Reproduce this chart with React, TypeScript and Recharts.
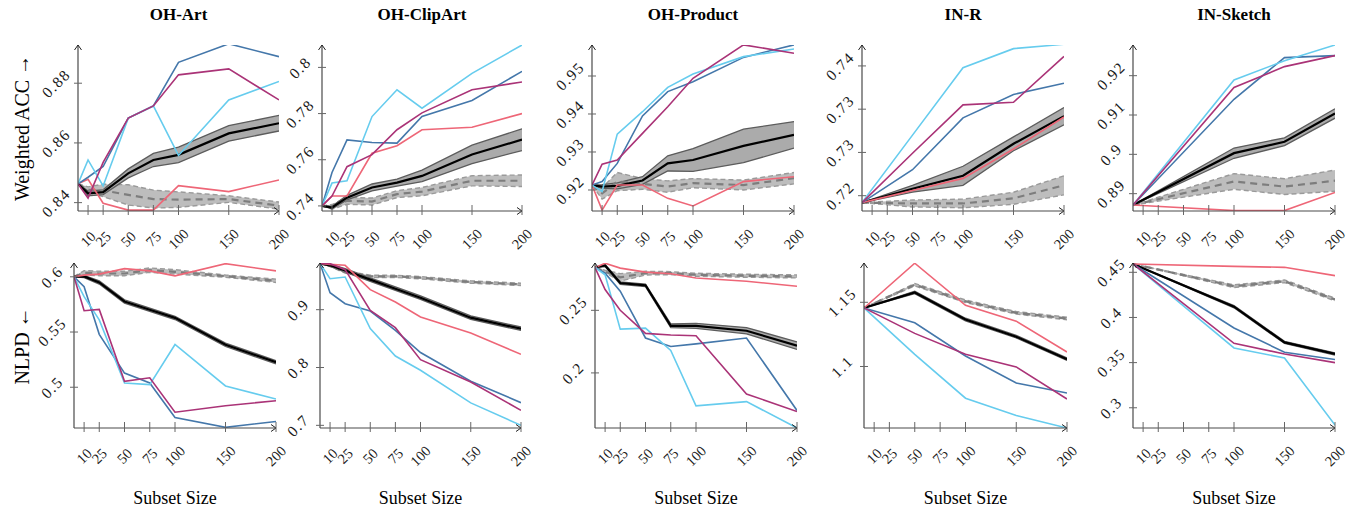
import React from 'react';
import { ComposedChart, Line, Area, XAxis, YAxis, ReferenceDot } from 'recharts';

const FONT = '"Liberation Serif", "Times New Roman", "DejaVu Serif", serif';
const C_BLUE = '#4477AA';
const C_CYAN = '#66CCEE';
const C_PURPLE = '#AA3377';
const C_RED = '#EE6677';

// ---------- categories / ticks ----------
const X_FULL = [0, 10, 25, 50, 75, 100, 150, 200];
const X_INR = [0, 50, 100, 150, 200];
const X_INS = [0, 100, 150, 200];
const X_TICKS = [10, 25, 50, 75, 100, 150, 200];

const TITLES = ['OH-Art', 'OH-ClipArt', 'OH-Product', 'IN-R', 'IN-Sketch'];
const ROW_LABELS = ['Weighted ACC \u2192', 'NLPD \u2190'];
const X_LABEL = 'Subset Size';

// ---------- OH-Art : Weighted ACC ----------
const artAccBlue = [0.8463, 0.8485, 0.8521, 0.8683, 0.8724, 0.887, 0.8932, 0.8889];
const artAccCyan = [0.8463, 0.8543, 0.8456, 0.8683, 0.8724, 0.8558, 0.8744, 0.8806];
const artAccPurple = [0.8463, 0.8415, 0.8535, 0.8683, 0.8724, 0.8828, 0.8848, 0.8744];
const artAccRed = [0.8463, 0.8478, 0.8398, 0.8375, 0.8375, 0.8457, 0.8437, 0.8476];
const artAccBlack = [0.8463, 0.8431, 0.8435, 0.8498, 0.8543, 0.856, 0.8632, 0.8666];
const artAccBlackHw = [0, 0.0008, 0.0008, 0.0015, 0.0022, 0.0026, 0.0026, 0.0026];
const artAccGray = [0.8463, 0.8443, 0.8441, 0.8426, 0.8412, 0.841, 0.8412, 0.839];
const artAccGrayHw = [0, 0.001, 0.0021, 0.0034, 0.003, 0.0026, 0.0011, 0.0012];

// ---------- OH-Art : NLPD ----------
const artNlpdBlue = [0.6, 0.5911, 0.5479, 0.5128, 0.5039, 0.4726, 0.4637, 0.469];
const artNlpdCyan = [0.6, 0.582, 0.561, 0.5039, 0.5024, 0.5387, 0.5012, 0.4893];
const artNlpdPurple = [0.6, 0.5693, 0.5705, 0.5054, 0.5086, 0.4774, 0.4833, 0.4878];
const artNlpdRed = [0.6, 0.6015, 0.6024, 0.6074, 0.6054, 0.6009, 0.6119, 0.6054];
const artNlpdBlack = [0.6, 0.6003, 0.5949, 0.5777, 0.5702, 0.5628, 0.5384, 0.5226];
const artNlpdBlackHw = [0, 0.001, 0.0015, 0.0015, 0.0015, 0.0015, 0.0015, 0.0015];
const artNlpdGray = [0.6, 0.6036, 0.603, 0.603, 0.606, 0.6045, 0.6006, 0.5964];
const artNlpdGrayHw = [0, 0.002, 0.002, 0.002, 0.002, 0.002, 0.001, 0.0015];

// ---------- OH-ClipArt : Weighted ACC ----------
const clipAccBlue = [0.74, 0.7545, 0.7686, 0.7675, 0.7672, 0.7787, 0.7857, 0.7983];
const clipAccCyan = [0.74, 0.7499, 0.7509, 0.7787, 0.7903, 0.7823, 0.7974, 0.8097];
const clipAccPurple = [0.74, 0.7443, 0.757, 0.7622, 0.773, 0.7803, 0.7903, 0.7937];
const clipAccRed = [0.74, 0.7443, 0.7443, 0.7628, 0.7661, 0.773, 0.7741, 0.78];
const clipAccBlack = [0.74, 0.7393, 0.7436, 0.748, 0.7501, 0.753, 0.7623, 0.7687];
const clipAccBlackHw = [0, 0.0005, 0.001, 0.0015, 0.0015, 0.0025, 0.004, 0.0047];
const clipAccGray = [0.74, 0.7396, 0.7422, 0.7419, 0.7451, 0.7462, 0.7509, 0.7509];
const clipAccGrayHw = [0, 0.001, 0.0015, 0.0015, 0.0015, 0.0018, 0.0022, 0.0025];

// ---------- OH-ClipArt : NLPD ----------
const clipNlpdBlue = [0.98, 0.9294, 0.9104, 0.8977, 0.8643, 0.8259, 0.7763, 0.7392];
const clipNlpdCyan = [0.98, 0.9536, 0.9565, 0.8672, 0.8199, 0.7953, 0.7388, 0.7];
const clipNlpdPurple = [0.98, 0.9796, 0.9692, 0.8988, 0.8689, 0.8136, 0.775, 0.726];
const clipNlpdRed = [0.98, 0.9784, 0.9767, 0.9346, 0.9133, 0.8873, 0.8597, 0.8228];
const clipNlpdBlack = [0.98, 0.9767, 0.968, 0.9519, 0.9363, 0.9207, 0.8862, 0.8671];
const clipNlpdBlackHw = [0, 0.002, 0.003, 0.003, 0.003, 0.003, 0.003, 0.003];
const clipNlpdGray = [0.98, 0.9767, 0.9651, 0.9576, 0.9576, 0.9553, 0.9478, 0.9438];
const clipNlpdGrayHw = [0, 0.002, 0.002, 0.002, 0.002, 0.002, 0.002, 0.002];

// ---------- OH-Product : Weighted ACC ----------
const prodAccBlue = [0.9213, 0.9222, 0.927, 0.9395, 0.9459, 0.9485, 0.9549, 0.9582];
const prodAccCyan = [0.9213, 0.9196, 0.9347, 0.9406, 0.947, 0.9505, 0.9551, 0.9571];
const prodAccPurple = [0.9213, 0.9268, 0.9279, 0.9349, 0.9419, 0.9494, 0.9582, 0.956];
const prodAccRed = [0.9213, 0.9147, 0.9213, 0.9213, 0.9178, 0.9158, 0.9222, 0.9235];
const prodAccBlack = [0.9213, 0.9209, 0.9211, 0.9225, 0.927, 0.9279, 0.9316, 0.9345];
const prodAccBlackHw = [0, 0.0005, 0.0008, 0.001, 0.002, 0.003, 0.0044, 0.0035];
const prodAccGray = [0.9213, 0.9191, 0.9222, 0.9216, 0.9209, 0.9218, 0.9213, 0.9231];
const prodAccGrayHw = [0, 0.0015, 0.0024, 0.0014, 0.0015, 0.0012, 0.0013, 0.0015];

// ---------- OH-Product : NLPD ----------
const prodNlpdBlue = [0.2842, 0.2797, 0.2653, 0.2279, 0.2211, 0.2232, 0.2279, 0.17];
const prodNlpdCyan = [0.2842, 0.2784, 0.235, 0.2358, 0.2179, 0.1737, 0.1771, 0.156];
const prodNlpdPurple = [0.2842, 0.2666, 0.25, 0.2316, 0.2303, 0.2297, 0.1832, 0.1692];
const prodNlpdRed = [0.2842, 0.2876, 0.2837, 0.2805, 0.2792, 0.2758, 0.2732, 0.2692];
const prodNlpdBlack = [0.2842, 0.2858, 0.2718, 0.27, 0.2376, 0.2376, 0.2337, 0.2218];
const prodNlpdBlackHw = [0, 0.0008, 0.001, 0.001, 0.0015, 0.002, 0.0025, 0.003];
const prodNlpdGray = [0.2842, 0.281, 0.2763, 0.2797, 0.2797, 0.2784, 0.2776, 0.2771];
const prodNlpdGrayHw = [0, 0.001, 0.003, 0.0015, 0.0012, 0.0012, 0.0012, 0.0012];

// ---------- IN-R : Weighted ACC ----------
const inrAccBlue = [0.7242, 0.728, 0.734, 0.7367, 0.738];
const inrAccCyan = [0.7242, 0.732, 0.7398, 0.742, 0.7425];
const inrAccPurple = [0.7242, 0.7299, 0.7355, 0.7358, 0.7411];
const inrAccRed = [0.7242, 0.7256, 0.727, 0.7304, 0.7341];
const inrAccBlack = [0.7242, 0.7258, 0.7273, 0.731, 0.7342];
const inrAccBlackHw = [0, 0.0004, 0.0011, 0.0008, 0.001];
const inrAccGray = [0.7242, 0.7241, 0.7241, 0.7247, 0.7262];
const inrAccGrayHw = [0, 0.0004, 0.0005, 0.0007, 0.0011];

// ---------- IN-R : NLPD ----------
const inrNlpdBlue = [1.1456, 1.134, 1.1082, 1.0871, 1.0793];
const inrNlpdCyan = [1.1456, 1.1095, 1.0753, 1.0619, 1.0521];
const inrNlpdPurple = [1.1456, 1.1258, 1.1095, 1.0997, 1.0747];
const inrNlpdRed = [1.1456, 1.1804, 1.1477, 1.1353, 1.1113];
const inrNlpdBlack = [1.1456, 1.1577, 1.1366, 1.1232, 1.1057];
const inrNlpdBlackHw = [0, 0.001, 0.001, 0.001, 0.001];
const inrNlpdGray = [1.1456, 1.1637, 1.1508, 1.1418, 1.1374];
const inrNlpdGrayHw = [0, 0.001, 0.001, 0.001, 0.001];

// ---------- IN-Sketch : Weighted ACC ----------
const insAccBlue = [0.8871, 0.914, 0.9246, 0.9251];
const insAccCyan = [0.8871, 0.9189, 0.9238, 0.9278];
const insAccPurple = [0.8871, 0.917, 0.9223, 0.9251];
const insAccRed = [0.8871, 0.8857, 0.8857, 0.8903];
const insAccBlack = [0.8871, 0.9003, 0.9032, 0.9104];
const insAccBlackHw = [0, 0.0013, 0.001, 0.0012];
const insAccGray = [0.8871, 0.8931, 0.8918, 0.8933];
const insAccGrayHw = [0, 0.002, 0.002, 0.0027];

// ---------- IN-Sketch : NLPD ----------
const insNlpdBlue = [0.4592, 0.3883, 0.3615, 0.3534];
const insNlpdCyan = [0.4592, 0.3662, 0.3552, 0.2808];
const insNlpdPurple = [0.4592, 0.3713, 0.3596, 0.35];
const insNlpdRed = [0.4592, 0.4566, 0.4555, 0.4463];
const insNlpdBlack = [0.4592, 0.4119, 0.3724, 0.3596];
const insNlpdBlackHw = [0, 0.0012, 0.0012, 0.0012];
const insNlpdGray = [0.4592, 0.4346, 0.4401, 0.4199];
const insNlpdGrayHw = [0, 0.0015, 0.0015, 0.0015];

// ---------- y axis ticks ----------
const artAccTicks = [0.84, 0.86, 0.88];
const artNlpdTicks = [0.5, 0.55, 0.6];
const clipAccTicks = [0.74, 0.76, 0.78, 0.8];
const clipNlpdTicks = [0.7, 0.8, 0.9];
const prodAccTicks = [0.92, 0.93, 0.94, 0.95];
const prodNlpdTicks = [0.2, 0.25];
const inrAccTicks = [0.725, 0.73, 0.735, 0.74];
const inrAccTickLabels = ['0.72', '0.73', '0.73', '0.74'];
const inrNlpdTicks = [1.1, 1.15];
const insAccTicks = [0.89, 0.9, 0.91, 0.92];
const insNlpdTicks = [0.3, 0.35, 0.4, 0.45];

type PanelCfg = {
  xs: number[];
  blue: number[]; cyan: number[]; purple: number[]; red: number[];
  black: number[]; blackHw: number[]; gray: number[]; grayHw: number[];
  domain: [number, number];
  yTicks: number[];
  yLabels?: string[];
  left: number; right: number; top: number; bottom: number;
};

const TOP_Y = [45, 211];
const BOT_Y = [263, 428];

const PANELS: PanelCfg[] = [
  { xs: X_FULL, blue: artAccBlue, cyan: artAccCyan, purple: artAccPurple, red: artAccRed, black: artAccBlack, blackHw: artAccBlackHw, gray: artAccGray, grayHw: artAccGrayHw, domain: [0.8372, 0.8928], yTicks: artAccTicks, left: 78, right: 279, top: TOP_Y[0], bottom: TOP_Y[1] },
  { xs: X_FULL, blue: clipAccBlue, cyan: clipAccCyan, purple: clipAccPurple, red: clipAccRed, black: clipAccBlack, blackHw: clipAccBlackHw, gray: clipAccGray, grayHw: clipAccGrayHw, domain: [0.7378, 0.8097], yTicks: clipAccTicks, left: 322, right: 522, top: TOP_Y[0], bottom: TOP_Y[1] },
  { xs: X_FULL, blue: prodAccBlue, cyan: prodAccCyan, purple: prodAccPurple, red: prodAccRed, black: prodAccBlack, blackHw: prodAccBlackHw, gray: prodAccGray, grayHw: prodAccGrayHw, domain: [0.91447, 0.95816], yTicks: prodAccTicks, left: 592, right: 794, top: TOP_Y[0], bottom: TOP_Y[1] },
  { xs: X_INR, blue: inrAccBlue, cyan: inrAccCyan, purple: inrAccPurple, red: inrAccRed, black: inrAccBlack, blackHw: inrAccBlackHw, gray: inrAccGray, grayHw: inrAccGrayHw, domain: [0.72323, 0.74242], yTicks: inrAccTicks, yLabels: inrAccTickLabels, left: 862, right: 1064, top: TOP_Y[0], bottom: TOP_Y[1] },
  { xs: X_INS, blue: insAccBlue, cyan: insAccCyan, purple: insAccPurple, red: insAccRed, black: insAccBlack, blackHw: insAccBlackHw, gray: insAccGray, grayHw: insAccGrayHw, domain: [0.88559, 0.9278], yTicks: insAccTicks, left: 1133, right: 1335, top: TOP_Y[0], bottom: TOP_Y[1] },

  { xs: X_FULL, blue: artNlpdBlue, cyan: artNlpdCyan, purple: artNlpdPurple, red: artNlpdRed, black: artNlpdBlack, blackHw: artNlpdBlackHw, gray: artNlpdGray, grayHw: artNlpdGrayHw, domain: [0.4631, 0.6125], yTicks: artNlpdTicks, left: 74, right: 276, top: BOT_Y[0], bottom: BOT_Y[1] },
  { xs: X_FULL, blue: clipNlpdBlue, cyan: clipNlpdCyan, purple: clipNlpdPurple, red: clipNlpdRed, black: clipNlpdBlack, blackHw: clipNlpdBlackHw, gray: clipNlpdGray, grayHw: clipNlpdGrayHw, domain: [0.6954, 0.9807], yTicks: clipNlpdTicks, left: 320, right: 521, top: BOT_Y[0], bottom: BOT_Y[1] },
  { xs: X_FULL, blue: prodNlpdBlue, cyan: prodNlpdCyan, purple: prodNlpdPurple, red: prodNlpdRed, black: prodNlpdBlack, blackHw: prodNlpdBlackHw, gray: prodNlpdGray, grayHw: prodNlpdGrayHw, domain: [0.156, 0.2878], yTicks: prodNlpdTicks, left: 595, right: 797, top: BOT_Y[0], bottom: BOT_Y[1] },
  { xs: X_INR, blue: inrNlpdBlue, cyan: inrNlpdCyan, purple: inrNlpdPurple, red: inrNlpdRed, black: inrNlpdBlack, blackHw: inrNlpdBlackHw, gray: inrNlpdGray, grayHw: inrNlpdGrayHw, domain: [1.0521, 1.1806], yTicks: inrNlpdTicks, left: 864, right: 1067, top: BOT_Y[0], bottom: BOT_Y[1] },
  { xs: X_INS, blue: insNlpdBlue, cyan: insNlpdCyan, purple: insNlpdPurple, red: insNlpdRed, black: insNlpdBlack, blackHw: insNlpdBlackHw, gray: insNlpdGray, grayHw: insNlpdGrayHw, domain: [0.2776, 0.4603], yTicks: insNlpdTicks, left: 1133, right: 1335, top: BOT_Y[0], bottom: BOT_Y[1] },
];

const AXIS_COLOR = '#4a4a4a';
const TICK_COLOR = '#666';
const TEXT_COLOR = '#1a1a1a';

function XTick(props: any) {
  const { x, y, payload } = props;
  const cy = y + 28;
  return (
    <g>
      <line x1={x} x2={x} y1={y - 6} y2={y + 4} stroke={TICK_COLOR} strokeWidth={1} />
      <text
        x={x}
        y={cy}
        textAnchor="middle"
        dominantBaseline="central"
        transform={`rotate(-45 ${x} ${cy})`}
        fontSize={14.5}
        fontFamily={FONT}
        fill={TEXT_COLOR}
      >
        {payload.value}
      </text>
    </g>
  );
}

function YTick(props: any) {
  const { x, y, payload, ticks, labels } = props;
  const idx = ticks.findIndex((t: number) => Math.abs(t - payload.value) < 1e-9);
  const label = labels && idx >= 0 ? labels[idx] : String(payload.value);
  const cx = x - 22;
  return (
    <g>
      <line x1={x - 4} x2={x + 4} y1={y} y2={y} stroke={TICK_COLOR} strokeWidth={1} />
      <text
        x={cx}
        y={y}
        textAnchor="middle"
        dominantBaseline="central"
        transform={`rotate(-45 ${cx} ${y})`}
        fontSize={15.5}
        letterSpacing={1.5}
        fontFamily={FONT}
        fill={TEXT_COLOR}
      >
        {label}
      </text>
    </g>
  );
}

function ChartPanel({ p }: { p: PanelCfg }) {
  const ML = 56, MT = 12, MR = 18, XH = 56;
  const plotW = p.right - p.left;
  const plotH = p.bottom - p.top;
  const W = plotW + ML + MR;
  const H = plotH + MT + XH;
  const data = p.xs.map((x, i) => ({
    x,
    blue: p.blue[i],
    cyan: p.cyan[i],
    purple: p.purple[i],
    red: p.red[i],
    black: p.black[i],
    blackBand: [p.black[i] - p.blackHw[i], p.black[i] + p.blackHw[i]],
    gray: p.gray[i],
    grayBand: [p.gray[i] - p.grayHw[i], p.gray[i] + p.grayHw[i]],
  }));
  const upArrow = (q: any) => (
    <path d={`M${q.cx - 3.5},${q.cy + 5} L${q.cx},${q.cy} L${q.cx + 3.5},${q.cy + 5}`} fill="none" stroke="#222" strokeWidth={1} />
  );
  const rightArrow = (q: any) => (
    <path d={`M${q.cx - 5},${q.cy - 3.5} L${q.cx},${q.cy} L${q.cx - 5},${q.cy + 3.5}`} fill="none" stroke="#222" strokeWidth={1} />
  );
  return (
    <div style={{ position: 'absolute', left: p.left - ML, top: p.top - MT, width: W, height: H }}>
      <ComposedChart width={W} height={H} data={data} margin={{ top: MT, right: MR, left: 0, bottom: 0 }}>
        <XAxis
          dataKey="x"
          type="number"
          domain={[0, 200]}
          ticks={X_TICKS}
          interval={0}
          height={XH}
          tickSize={0}
          tickMargin={0}
          tickLine={false}
          axisLine={{ stroke: AXIS_COLOR, strokeWidth: 1.2 }}
          tick={(tp: any) => <XTick {...tp} />}
          allowDataOverflow
        />
        <YAxis
          type="number"
          domain={p.domain}
          ticks={p.yTicks}
          interval={0}
          width={ML}
          tickSize={0}
          tickMargin={0}
          tickLine={false}
          axisLine={{ stroke: AXIS_COLOR, strokeWidth: 1.2 }}
          tick={(tp: any) => <YTick {...tp} ticks={p.yTicks} labels={p.yLabels} />}
          allowDataOverflow
        />
        <Area type="linear" dataKey="grayBand" stroke="#9a9a9a" strokeWidth={1.4} strokeDasharray="5 3" fill="#bdbdbd" fillOpacity={1} isAnimationActive={false} />
        <Line type="linear" dataKey="gray" stroke="#7d7d7d" strokeWidth={2.2} strokeDasharray="7 5" dot={false} isAnimationActive={false} />
        <Area type="linear" dataKey="blackBand" stroke="#5c5c5c" strokeWidth={1.3} fill="#ababab" fillOpacity={1} isAnimationActive={false} />
        <Line type="linear" dataKey="black" stroke="#000" strokeWidth={2.2} dot={false} isAnimationActive={false} />
        <Line type="linear" dataKey="red" stroke={C_RED} strokeWidth={1.6} dot={false} isAnimationActive={false} />
        <Line type="linear" dataKey="blue" stroke={C_BLUE} strokeWidth={1.6} dot={false} isAnimationActive={false} />
        <Line type="linear" dataKey="cyan" stroke={C_CYAN} strokeWidth={1.6} dot={false} isAnimationActive={false} />
        <Line type="linear" dataKey="purple" stroke={C_PURPLE} strokeWidth={1.6} dot={false} isAnimationActive={false} />
        <ReferenceDot x={0} y={p.domain[1]} ifOverflow="visible" shape={upArrow} />
        <ReferenceDot x={200} y={p.domain[0]} ifOverflow="visible" shape={rightArrow} />
      </ComposedChart>
    </div>
  );
}

export default function App() {
  const topPanels = PANELS.slice(0, 5);
  const botPanels = PANELS.slice(5);
  return (
    <div style={{ position: 'absolute', left: 0, top: 0, width: 1361, height: 512, background: '#fff', overflow: 'hidden' }}>
      <svg width={1361} height={512} style={{ position: 'absolute', left: 0, top: 0 }}>
        {topPanels.map((p, i) => (
          <text key={`t${i}`} x={(p.left + p.right) / 2} y={20} textAnchor="middle" fontSize={17} fontWeight="bold" fontFamily={FONT} fill="#000">
            {TITLES[i]}
          </text>
        ))}
        {botPanels.map((p, i) => (
          <text key={`x${i}`} x={(p.left + p.right) / 2} y={504} textAnchor="middle" fontSize={18} fontFamily={FONT} fill="#000">
            {X_LABEL}
          </text>
        ))}
        <text x={22} y={128} textAnchor="middle" dominantBaseline="central" transform="rotate(-90 22 128)" fontSize={20} fontFamily={FONT} fill="#000">
          {ROW_LABELS[0]}
        </text>
        <text x={22} y={346} textAnchor="middle" dominantBaseline="central" transform="rotate(-90 22 346)" fontSize={20} fontFamily={FONT} fill="#000">
          {ROW_LABELS[1]}
        </text>
      </svg>
      {PANELS.map((p, i) => (
        <ChartPanel key={i} p={p} />
      ))}
    </div>
  );
}
